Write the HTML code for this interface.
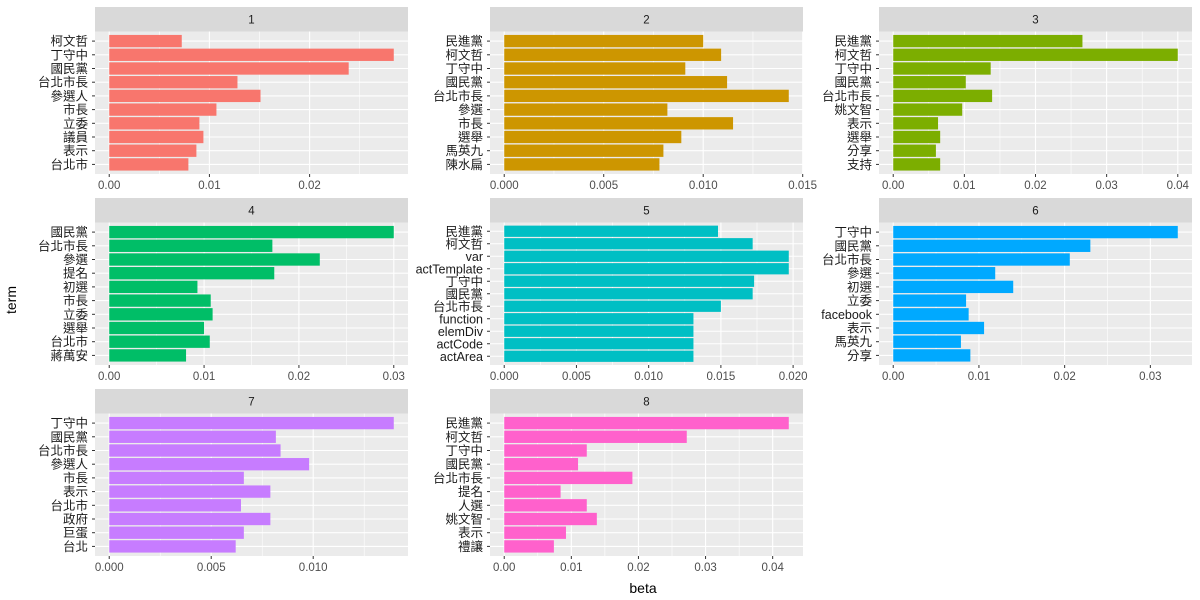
<!DOCTYPE html>
<html><head><meta charset="utf-8">
<style>
html,body{margin:0;padding:0;background:#fff;}
svg{display:block;font-family:"Liberation Sans","Noto Sans CJK TC",sans-serif;}
</style></head>
<body>
<svg id="chart" width="1200" height="600" viewBox="0 0 1200 600">
<text x="16" y="300" font-size="14" fill="#000" text-anchor="middle" transform="rotate(-90 16 300)">term</text>
<text x="643" y="593" font-size="14" fill="#000" text-anchor="middle">beta</text>
</svg>
<script>
const panelIds = ["1","2","3","4","5","6","7","8"];
const colors = ["#F8766D","#CD9600","#7CAE00","#00BE67","#00BFC4","#00A9FF","#C77CFF","#FF61CC"];
const terms1 = ["柯文哲","丁守中","國民黨","台北市長","參選人","市長","立委","議員","表示","台北市"];
const beta1 = [0.00724,0.0284,0.0239,0.0128,0.0151,0.0107,0.0090,0.0094,0.0087,0.0079];
const terms2 = ["民進黨","柯文哲","丁守中","國民黨","台北市長","參選","市長","選舉","馬英九","陳水扁"];
const beta2 = [0.0100,0.0109,0.0091,0.0112,0.0143,0.0082,0.0115,0.0089,0.0080,0.0078];
const terms3 = ["民進黨","柯文哲","丁守中","國民黨","台北市長","姚文智","表示","選舉","分享","支持"];
const beta3 = [0.0266,0.0400,0.0137,0.0102,0.0139,0.0097,0.0063,0.0066,0.0060,0.0066];
const terms4 = ["國民黨","台北市長","參選","提名","初選","市長","立委","選舉","台北市","蔣萬安"];
const beta4 = [0.0300,0.0172,0.0222,0.0174,0.0093,0.0107,0.0109,0.0100,0.0106,0.0081];
const terms5 = ["民進黨","柯文哲","var","actTemplate","丁守中","國民黨","台北市長","function","elemDiv","actCode","actArea"];
const beta5 = [0.0148,0.0172,0.0197,0.0197,0.0173,0.0172,0.0150,0.0131,0.0131,0.0131,0.0131];
const terms6 = ["丁守中","國民黨","台北市長","參選","初選","立委","facebook","表示","馬英九","分享"];
const beta6 = [0.0332,0.0230,0.0206,0.0119,0.0140,0.0085,0.0088,0.0106,0.0079,0.0090];
const terms7 = ["丁守中","國民黨","台北市長","參選人","市長","表示","台北市","政府","巨蛋","台北"];
const beta7 = [0.01395,0.00817,0.0084,0.0098,0.0066,0.0079,0.00646,0.0079,0.0066,0.0062];
const terms8 = ["民進黨","柯文哲","丁守中","國民黨","台北市長","提名","人選","姚文智","表示","禮讓"];
const beta8 = [0.0424,0.0272,0.0123,0.0110,0.0191,0.0084,0.0123,0.0138,0.0092,0.0074];
const ticks1 = [0,0.01,0.02];
const ticks2 = [0,0.005,0.010,0.015];
const ticks3 = [0,0.01,0.02,0.03,0.04];
const ticks4 = [0,0.01,0.02,0.03];
const ticks5 = [0,0.005,0.010,0.015,0.020];
const ticks6 = [0,0.01,0.02,0.03];
const ticks7 = [0,0.005,0.010];
const ticks8 = [0,0.01,0.02,0.03,0.04];
const decimals = [2,3,2,2,3,2,3,2];

const allTerms=[terms1,terms2,terms3,terms4,terms5,terms6,terms7,terms8];
const allBeta=[beta1,beta2,beta3,beta4,beta5,beta6,beta7,beta8];
const allTicks=[ticks1,ticks2,ticks3,ticks4,ticks5,ticks6,ticks7,ticks8];
const colL=[95,490,879], W=313;
const stripT=[7,198,389], stripH=24.5, plotB=[174,365,556];
const NS="http://www.w3.org/2000/svg";
const svg=document.getElementById('chart');
function mk(tag,attrs,parent){const e=document.createElementNS(NS,tag);for(const k in attrs)e.setAttribute(k,attrs[k]);(parent||svg).appendChild(e);return e;}

for(let p=0;p<8;p++){
  const c=p%3, r=Math.floor(p/3);
  const L=colL[c], T=stripT[r]+stripH, B=plotB[r], H=B-T;
  const terms=allTerms[p], vals=allBeta[p], ticks=allTicks[p];
  const g=mk('g',{});
  
  
  const mx=Math.max(...vals);
  const span=mx*1.1;
  const xs=v=>L+W*(0.05*mx+v)/span;
  const n=terms.length, band=H/(n+0.4);
  const ys=i=>T+band*(0.2+i)+band/2;
  const strip=mk('rect',{x:L,y:stripT[r],width:W,height:stripH,fill:'#D9D9D9'},g);
  
  
  const st=mk('text',{x:L+W/2,y:stripT[r]+stripH/2+4,'font-size':11.5,fill:'#1A1A1A','text-anchor':'middle'},g);
  st.textContent=panelIds[p];
  
  
  const bg=mk('rect',{x:L,y:T,width:W,height:H,fill:'#EBEBEB'},g);
  
  
  const step=ticks[1]-ticks[0];
  for(let m=step/2; m<span; m+=step){ const x=xs(m); if(x<L+W) mk('line',{x1:x,x2:x,y1:T,y2:B,stroke:'#fff','stroke-width':0.6},g); }
  ticks.forEach(t=>{const x=xs(t); mk('line',{x1:x,x2:x,y1:T,y2:B,stroke:'#fff','stroke-width':1.1},g);
    mk('line',{x1:x,x2:x,y1:B,y2:B+3,stroke:'#333','stroke-width':1},g);
    const tl=mk('text',{x:x,y:B+15,'font-size':11.5,fill:'#4D4D4D','text-anchor':'middle'},g);
    tl.textContent=t.toFixed(decimals[p]);
    
    });
  terms.forEach((t,i)=>{const y=ys(i);
    mk('line',{x1:L,x2:L+W,y1:y,y2:y,stroke:'#fff','stroke-width':1.1},g);
    mk('line',{x1:L-3,x2:L,y1:y,y2:y,stroke:'#333','stroke-width':1},g);
    const yl=mk('text',{x:L-7,y:y+4.5,'font-size':12.5,fill:'#1A1A1A','text-anchor':'end'},g);
    yl.textContent=t;
    
    });
  vals.forEach((v,i)=>{const y=ys(i);
    const b=mk('rect',{x:xs(0),y:y-band*0.45,width:xs(v)-xs(0),height:band*0.9,fill:colors[p]},g);
    
    });
}
</script>
</body></html>
